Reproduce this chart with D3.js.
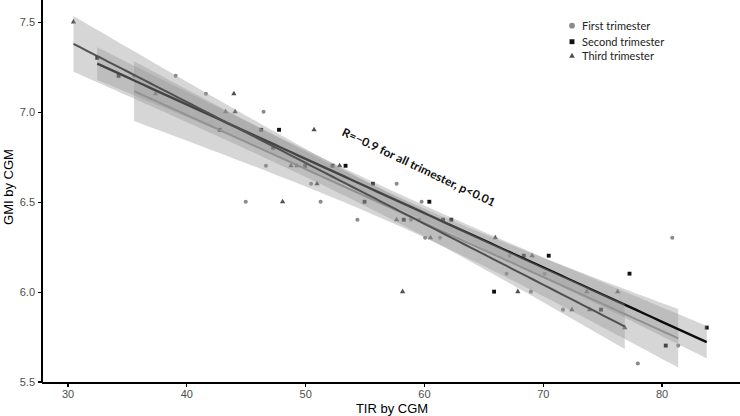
<!DOCTYPE html>
<meta charset="utf-8">
<style>
body { margin: 0; background: #fff; }
.axis text { font: 11px "Liberation Sans", Arial, sans-serif; fill: #4d4d4d; }
.axis path, .axis line { stroke: #000; stroke-width: 1.2; shape-rendering: crispEdges; }
.title { font: 13px "Liberation Sans", Arial, sans-serif; fill: #000; }
.legend text { font: 11px Lato, "Open Sans", sans-serif; fill: #222; }
.note { font: bold 11.5px Lato, "Open Sans", sans-serif; fill: #111; }
</style>
<svg id="chart" width="740" height="416"></svg>
<script src="https://cdn.jsdelivr.net/npm/d3@7/dist/d3.min.js"></script>
<script>

var groups = ["First trimester", "Second trimester", "Third trimester"];

// first trimester (circles)
var firstTIR = [35.6, 39.1, 41.65, 46.5, 46.7, 50.5, 57.7, 45.0, 51.3, 59.8, 54.4, 58.9, 59.6, 60.1, 61.35, 80.9, 67.2, 66.95, 70.15, 69.0, 71.7, 81.4, 78.0];
var firstGMI = [7.2, 7.2, 7.1, 7.0, 6.7, 6.6, 6.6, 6.5, 6.5, 6.5, 6.4, 6.4, 6.4, 6.3, 6.3, 6.3, 6.2, 6.1, 6.1, 6.0, 5.9, 5.7, 5.6];

// second trimester (squares)
var secondTIR = [32.5, 34.3, 42.8, 46.3, 47.8, 47.3, 50.0, 52.3, 53.4, 55.7, 55.0, 60.45, 58.3, 61.6, 62.3, 68.4, 70.5, 77.3, 65.9, 74.9, 83.8, 80.35];
var secondGMI = [7.3, 7.2, 6.9, 6.9, 6.9, 6.8, 6.7, 6.7, 6.7, 6.6, 6.5, 6.5, 6.4, 6.4, 6.4, 6.2, 6.2, 6.1, 6.0, 5.9, 5.8, 5.7];

// third trimester (triangles)
var thirdTIR = [30.5, 37.4, 44.0, 43.3, 44.1, 50.75, 48.8, 49.3, 52.9, 51.0, 48.1, 57.7, 60.55, 66.0, 69.1, 58.2, 67.9, 73.7, 76.3, 72.45, 73.95, 76.9];
var thirdGMI = [7.5, 7.1, 7.1, 7.0, 7.0, 6.9, 6.7, 6.7, 6.7, 6.6, 6.5, 6.4, 6.3, 6.3, 6.2, 6.0, 6.0, 6.0, 6.0, 5.9, 5.9, 5.8];

var xTicks = [30, 40, 50, 60, 70, 80];
var yTicks = [5.5, 6.0, 6.5, 7.0, 7.5];

var note = "R=\u22120.9 for all trimester, p<0.01";

var svg = d3.select("#chart");

var x = d3.scaleLinear().domain([27.85, 86.6]).range([42, 740]);
var y = d3.scaleLinear().domain([5.492, 7.594]).range([383, 5]);

var series = [
  {name: groups[0], tir: firstTIR, gmi: firstGMI, shape: d3.symbolCircle, size: 13, color: "#8a8a8a", line: "#8a8a8a", lw: 2},
  {name: groups[1], tir: secondTIR, gmi: secondGMI, shape: d3.symbolSquare, size: 15, color: "#111", line: "#0d0d0d", lw: 2.4},
  {name: groups[2], tir: thirdTIR, gmi: thirdGMI, shape: d3.symbolTriangle, size: 12, color: "#505050", line: "#505050", lw: 2}
];

// axes
svg.append("g")
  .attr("class", "axis")
  .attr("transform", "translate(0,383)")
  .call(d3.axisBottom(x).tickValues(xTicks).tickSize(4).tickPadding(3).tickFormat(d3.format("d")));

svg.append("g")
  .attr("class", "axis")
  .attr("transform", "translate(42,0)")
  .call(d3.axisLeft(y).tickValues(yTicks).tickSize(4).tickPadding(3).tickFormat(d3.format(".1f")));

svg.selectAll(".axis .domain").attr("d", function() {
  return d3.select(this.parentNode).attr("transform") === "translate(0,383)" ? "M42,0H740" : "M0,0V383";
});

svg.append("text").attr("class", "title")
  .attr("x", 392).attr("y", 413).attr("text-anchor", "middle")
  .text("TIR by CGM");

svg.append("text").attr("class", "title")
  .attr("transform", "translate(13,187) rotate(-90)")
  .attr("text-anchor", "middle")
  .text("GMI by CGM");

// points
series.forEach(function(s) {
  svg.append("g").selectAll("path")
    .data(s.tir.map(function(v, i) { return [v, s.gmi[i]]; }))
    .enter().append("path")
    .attr("transform", function(d) { return "translate(" + x(d[0]) + "," + y(d[1]) + ")"; })
    .attr("d", d3.symbol().type(s.shape).size(s.size))
    .attr("fill", s.color);
});

// linear fit with 95% confidence band
function tq(df) {
  var z = 1.959964;
  var g1 = (Math.pow(z, 3) + z) / 4;
  var g2 = (5 * Math.pow(z, 5) + 16 * Math.pow(z, 3) + 3 * z) / 96;
  var g3 = (3 * Math.pow(z, 7) + 19 * Math.pow(z, 5) + 17 * Math.pow(z, 3) - 15 * z) / 384;
  return z + g1 / df + g2 / (df * df) + g3 / (df * df * df);
}

function fit(xs, ys) {
  var n = xs.length, mx = d3.mean(xs), my = d3.mean(ys);
  var sxx = d3.sum(xs, function(v) { return (v - mx) * (v - mx); });
  var sxy = d3.sum(xs, function(v, i) { return (v - mx) * (ys[i] - my); });
  var b = sxy / sxx, a = my - b * mx;
  var sse = d3.sum(xs, function(v, i) { var r = ys[i] - (a + b * v); return r * r; });
  var s = Math.sqrt(sse / (n - 2)), t = tq(n - 2);
  var lo = d3.min(xs), hi = d3.max(xs);
  return d3.range(80).map(function(i) {
    var xv = lo + i * (hi - lo) / 79;
    var yh = a + b * xv;
    var se = s * Math.sqrt(1 / n + (xv - mx) * (xv - mx) / sxx);
    return {x: xv, y: yh, lo: yh - t * se, hi: yh + t * se};
  });
}

series.forEach(function(s) {
  var pts = fit(s.tir, s.gmi);
  svg.append("path").datum(pts)
    .attr("d", d3.area().x(function(d) { return x(d.x); }).y0(function(d) { return y(d.lo); }).y1(function(d) { return y(d.hi); }))
    .attr("fill", "#999").attr("fill-opacity", 0.4);
  svg.append("path").datum(pts)
    .attr("d", d3.line().x(function(d) { return x(d.x); }).y(function(d) { return y(d.y); }))
    .attr("fill", "none").attr("stroke", s.line).attr("stroke-width", s.lw);
});

// annotation
svg.append("text").attr("class", "note")
  .attr("transform", "translate(341,135) rotate(25.3)")
  .attr("textLength", 168).attr("lengthAdjust", "spacingAndGlyphs")
  .text(note);

// legend
var legend = svg.append("g").attr("class", "legend");
var legY = [25.7, 41.7, 56];
series.forEach(function(s, i) {
  legend.append("path")
    .attr("transform", "translate(572," + legY[i] + ")")
    .attr("d", d3.symbol().type(s.shape).size(i === 0 ? 26 : (i === 1 ? 24 : 14)))
    .attr("fill", s.color);
  legend.append("text")
    .attr("x", 582).attr("y", legY[i] + 3.8)
    .text(s.name);
});

</script>
